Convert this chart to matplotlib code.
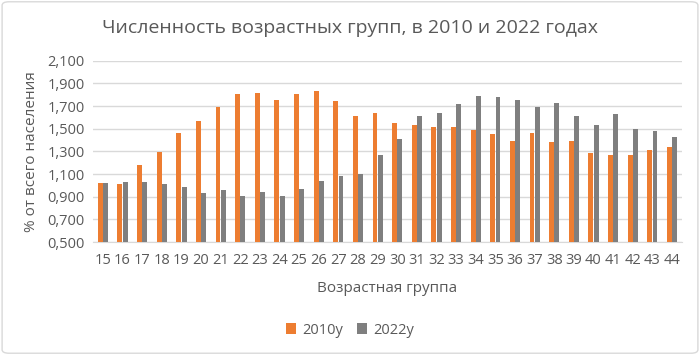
import matplotlib.pyplot as plt
import numpy as np
from matplotlib.patches import FancyBboxPatch

# данные: доля возрастных групп, % от всего населения
ages = list(range(15, 45))
share_2010 = [1.024, 1.015, 1.176, 1.291, 1.459, 1.568, 1.688, 1.803, 1.818, 1.750,
              1.803, 1.835, 1.741, 1.614, 1.635, 1.547, 1.532, 1.515, 1.515, 1.488,
              1.453, 1.391, 1.459, 1.379, 1.391, 1.285, 1.265, 1.265, 1.312, 1.338]
share_2022 = [1.024, 1.030, 1.030, 1.015, 0.982, 0.929, 0.956, 0.903, 0.941, 0.909,
              0.968, 1.038, 1.085, 1.101, 1.271, 1.412, 1.615, 1.641, 1.718, 1.788,
              1.776, 1.750, 1.694, 1.724, 1.615, 1.532, 1.629, 1.494, 1.479, 1.426]
yticks = np.arange(0.5, 2.101, 0.2)

plt.rcParams['font.family'] = ['Open Sans', 'DejaVu Sans']

fig = plt.figure(figsize=(7, 3.55), dpi=100)
ax = fig.add_axes([0.133, 0.318, 0.841, 0.511])

x = np.arange(len(ages))
w = 0.25
ax.bar(x - 0.135, share_2010, width=w, color='#ED7D31', label='2010у', zorder=3)
ax.bar(x + 0.135, share_2022, width=w, color='#7F7F7F', label='2022у', zorder=3)

ax.set_xlim(-0.5, len(ages) - 0.5)
ax.set_ylim(0.5, 2.1)
ax.set_yticks(yticks)
ax.set_yticklabels([f"{v:.3f}".replace('.', ',') for v in yticks])
ax.set_xticks(x)
ax.set_xticklabels([str(a) for a in ages])
ax.tick_params(length=0, labelsize=10.5, colors='#595959', pad=6)
ax.tick_params(axis='x', pad=8)
ax.grid(axis='y', color='#D9D9D9', linewidth=1, zorder=0)
for s in ['top', 'right', 'left']:
    ax.spines[s].set_visible(False)
ax.spines['bottom'].set_color('#D9D9D9')

ax.set_ylabel('% от всего населения', fontsize=11, color='#595959', labelpad=6)
ax.set_xlabel('Возрастная группа', fontsize=11, color='#595959', labelpad=9)

fig.text(0.5, 0.92, 'Численность возрастных групп, в 2010 и 2022 годах',
         ha='center', va='center', fontsize=14, color='#595959')

fig.legend(loc='center', bbox_to_anchor=(0.5, 0.07), ncol=2, frameon=False,
           fontsize=10.5, handlelength=0.7, handleheight=0.7, columnspacing=1.0,
           handletextpad=0.4, labelcolor='#595959')

# рамка диаграммы
fig.patches.append(FancyBboxPatch((0.003, 0.005), 0.994, 0.99, boxstyle='round,pad=0,rounding_size=0.01',
                                  transform=fig.transFigure, fill=False, edgecolor='#D9D9D9', linewidth=1))

plt.savefig('out.png', dpi=100)
